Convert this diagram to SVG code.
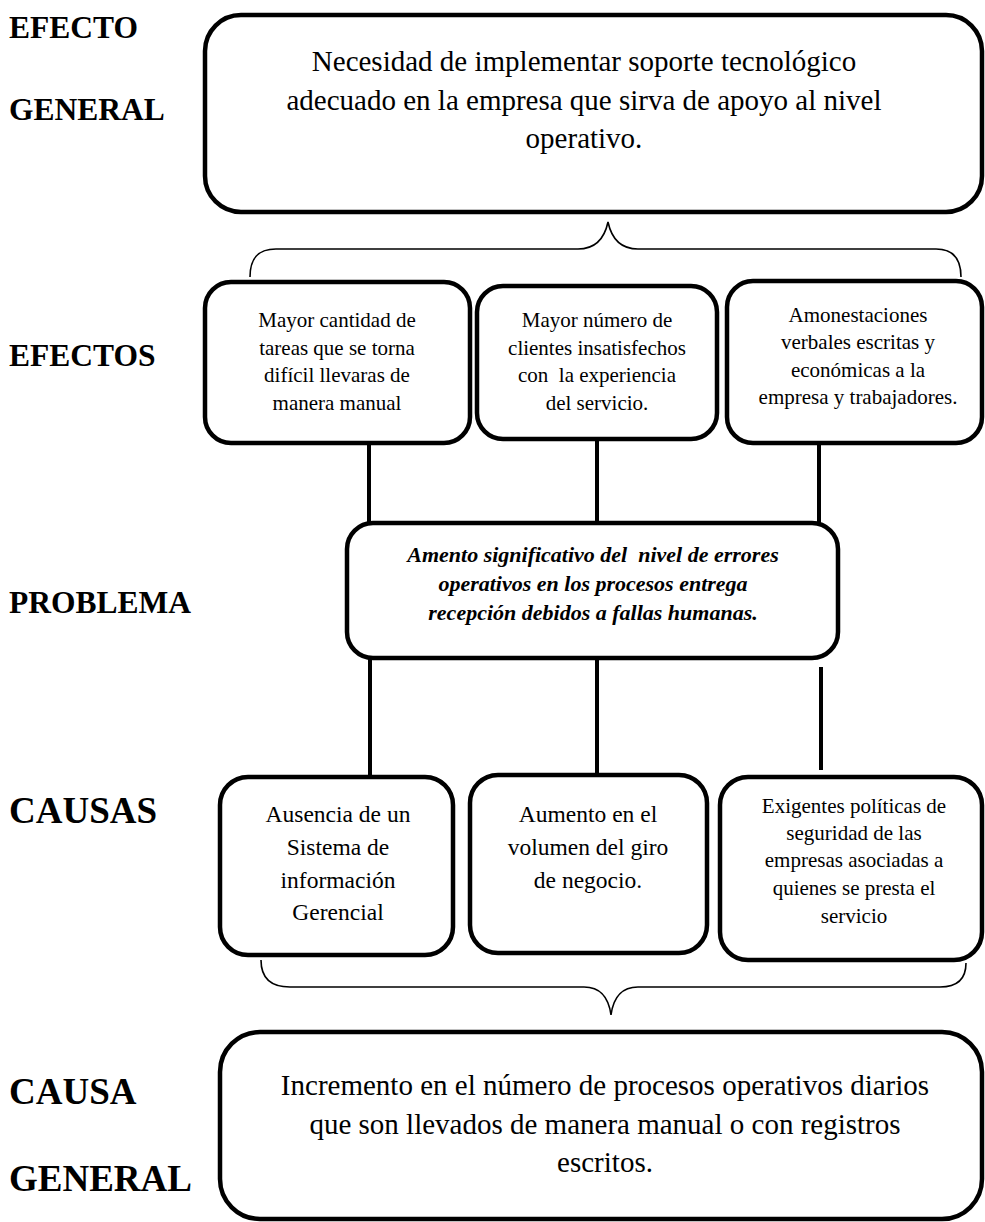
<svg xmlns="http://www.w3.org/2000/svg" width="985" height="1222" viewBox="0 0 985 1222">
  <style>
    .box { fill: #ffffff; stroke: #000000; stroke-width: 4.5; }
    .link { stroke: #000000; stroke-width: 4; fill: none; }
    .brace { stroke: #000000; stroke-width: 1.6; fill: none; }
    .label { font-family: "Liberation Serif", "Times New Roman", serif; font-weight: bold; fill: #000; }
    .txt { font-family: "Liberation Serif", "Times New Roman", serif; fill: #000; text-anchor: middle; white-space: pre; }
    .big { font-size: 29px; }
    .mid { font-size: 21px; }
    .cause { font-size: 23.5px; }
    .prob { font-size: 22px; font-weight: bold; font-style: italic; }
  </style>

  <!-- row labels -->
  <g id="labels">
    <text class="label" x="9" y="38" font-size="31.5">EFECTO</text>
    <text class="label" x="9" y="120" font-size="31.5">GENERAL</text>
    <text class="label" x="9" y="366" font-size="31.5">EFECTOS</text>
    <text class="label" x="9" y="613" font-size="31.5">PROBLEMA</text>
    <text class="label" x="9" y="823" font-size="37">CAUSAS</text>
    <text class="label" x="9" y="1104" font-size="37">CAUSA</text>
    <text class="label" x="9" y="1191" font-size="37">GENERAL</text>
  </g>

  <!-- connectors and braces -->
  <g id="connectors">
    <path class="brace" d="M250,277 C250,258 258,249 276,249 L578,249 C597,249 605,236 608,222 C611,236 619,249 638,249 L936,249 C953,249 961,258 961,277"/>
    <path class="brace" d="M261,960 C261,978 270,987 290,987 L584,987 C602,987 609,1000 611,1015 C613,1000 620,987 638,987 L940,987 C958,987 966,978 966,963"/>
    <line class="link" x1="369" y1="443" x2="369" y2="523"/>
    <line class="link" x1="597" y1="439" x2="597" y2="523"/>
    <line class="link" x1="819" y1="443" x2="819" y2="523"/>
    <line class="link" x1="370" y1="658" x2="370" y2="777"/>
    <line class="link" x1="597" y1="658" x2="597" y2="775"/>
    <line class="link" x1="821" y1="667" x2="821" y2="770"/>
  </g>

  <g id="efecto-general">
    <rect class="box" x="205" y="15" width="777" height="197" rx="36"/>
    <text class="txt big" x="584" y="71">Necesidad de implementar soporte tecnológico</text>
    <text class="txt big" x="584" y="110">adecuado en la empresa que sirva de apoyo al nivel</text>
    <text class="txt big" x="584" y="148">operativo.</text>
  </g>

  <g id="efecto-1">
    <rect class="box" x="205" y="282" width="265" height="161" rx="26"/>
    <text class="txt mid" x="337" y="327">Mayor cantidad de</text>
    <text class="txt mid" x="337" y="355">tareas que se torna</text>
    <text class="txt mid" x="337" y="382">difícil llevaras de</text>
    <text class="txt mid" x="337" y="410">manera manual</text>
  </g>

  <g id="efecto-2">
    <rect class="box" x="477" y="286" width="240" height="153" rx="26"/>
    <text class="txt mid" x="597" y="327">Mayor número de</text>
    <text class="txt mid" x="597" y="355">clientes insatisfechos</text>
    <text class="txt mid" x="597" y="382">con  la experiencia</text>
    <text class="txt mid" x="597" y="410">del servicio.</text>
  </g>

  <g id="efecto-3">
    <rect class="box" x="727" y="281" width="255" height="162" rx="26"/>
    <text class="txt mid" x="858" y="322">Amonestaciones</text>
    <text class="txt mid" x="858" y="349">verbales escritas y</text>
    <text class="txt mid" x="858" y="377">económicas a la</text>
    <text class="txt mid" x="858" y="404">empresa y trabajadores.</text>
  </g>

  <g id="problema">
    <rect class="box" x="347" y="523" width="491" height="135" rx="26"/>
    <text class="txt prob" x="593" y="562">Amento significativo del  nivel de errores</text>
    <text class="txt prob" x="593" y="591">operativos en los procesos entrega</text>
    <text class="txt prob" x="593" y="620">recepción debidos a fallas humanas.</text>
  </g>

  <g id="causa-1">
    <rect class="box" x="220" y="777" width="233" height="178" rx="28"/>
    <text class="txt cause" x="338" y="822">Ausencia de un</text>
    <text class="txt cause" x="338" y="855">Sistema de</text>
    <text class="txt cause" x="338" y="888">información</text>
    <text class="txt cause" x="338" y="920">Gerencial</text>
  </g>

  <g id="causa-2">
    <rect class="box" x="470" y="775" width="237" height="178" rx="28"/>
    <text class="txt cause" x="588" y="822">Aumento en el</text>
    <text class="txt cause" x="588" y="855">volumen del giro</text>
    <text class="txt cause" x="588" y="888">de negocio.</text>
  </g>

  <g id="causa-3">
    <rect class="box" x="720" y="777" width="262" height="183" rx="28"/>
    <text class="txt mid" x="854" y="813">Exigentes políticas de</text>
    <text class="txt mid" x="854" y="840">seguridad de las</text>
    <text class="txt mid" x="854" y="867">empresas asociadas a</text>
    <text class="txt mid" x="854" y="895">quienes se presta el</text>
    <text class="txt mid" x="854" y="923">servicio</text>
  </g>

  <g id="causa-general">
    <rect class="box" x="220" y="1032" width="762" height="187" rx="40"/>
    <text class="txt big" x="605" y="1095">Incremento en el número de procesos operativos diarios</text>
    <text class="txt big" x="605" y="1134">que son llevados de manera manual o con registros</text>
    <text class="txt big" x="605" y="1172">escritos.</text>
  </g>
</svg>
